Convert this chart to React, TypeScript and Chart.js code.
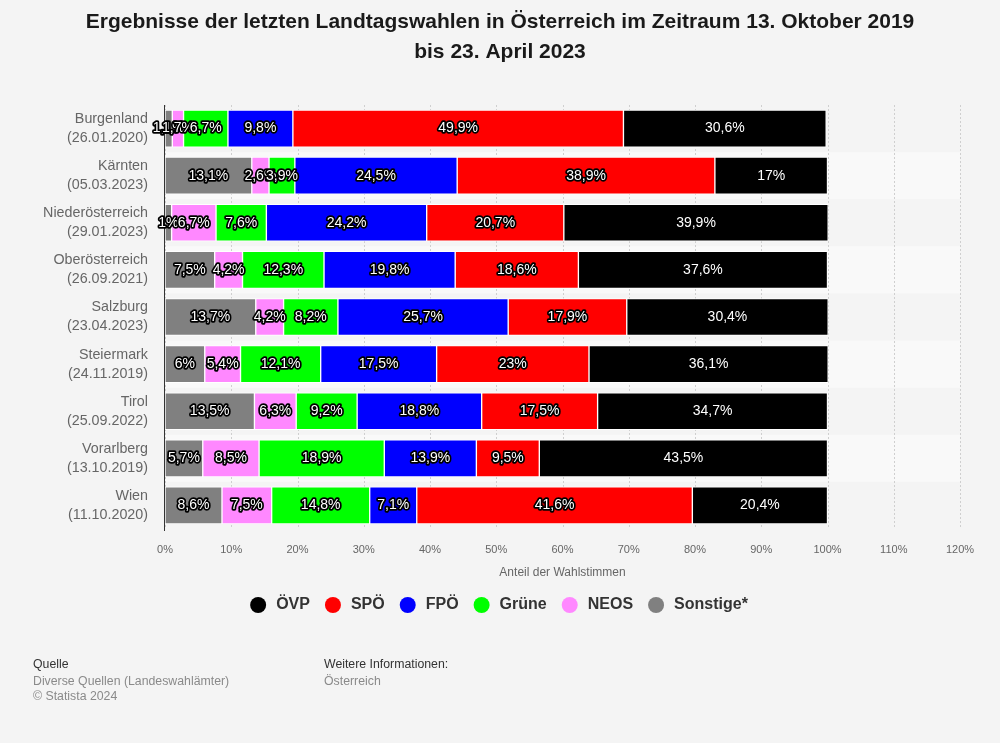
import React, { useEffect, useRef } from "react";
import { Chart, registerables } from "chart.js";

Chart.register(...registerables);

const categories: string[][] = [
  ["Burgenland", "(26.01.2020)"],
  ["Kärnten", "(05.03.2023)"],
  ["Niederösterreich", "(29.01.2023)"],
  ["Oberösterreich", "(26.09.2021)"],
  ["Salzburg", "(23.04.2023)"],
  ["Steiermark", "(24.11.2019)"],
  ["Tirol", "(25.09.2022)"],
  ["Vorarlberg", "(13.10.2019)"],
  ["Wien", "(11.10.2020)"],
];

const sonstige = [1.1, 13.1, 1, 7.5, 13.7, 6, 13.5, 5.7, 8.6];
const neos = [1.7, 2.6, 6.7, 4.2, 4.2, 5.4, 6.3, 8.5, 7.5];
const gruene = [6.7, 3.9, 7.6, 12.3, 8.2, 12.1, 9.2, 18.9, 14.8];
const fpoe = [9.8, 24.5, 24.2, 19.8, 25.7, 17.5, 18.8, 13.9, 7.1];
const spoe = [49.9, 38.9, 20.7, 18.6, 17.9, 23, 17.5, 9.5, 41.6];
const oevp = [30.6, 17, 39.9, 37.6, 30.4, 36.1, 34.7, 43.5, 20.4];

const seriesNames = ["Sonstige*", "NEOS", "Grüne", "FPÖ", "SPÖ", "ÖVP"];
const seriesColors = ["#808080", "#ff88ff", "#00ff00", "#0000ff", "#ff0000", "#000000"];
const legendOrder = ["ÖVP", "SPÖ", "FPÖ", "Grüne", "NEOS", "Sonstige*"];

const titleLines = [
  "Ergebnisse der letzten Landtagswahlen in Österreich im Zeitraum 13. Oktober 2019",
  "bis 23. April 2023",
];
const axisTitle = "Anteil der Wahlstimmen";
const xMin = 0;
const xMax = 120;
const xStep = 10;

const FONT = '"Liberation Sans", Arial, sans-serif';

const fmt = (v: number) => String(v).replace(".", ",") + "%";

const decorPlugin = {
  id: "decor",
  beforeDatasetsDraw(chart: any) {
    const { ctx, chartArea, scales } = chart;
    const x = scales.x;
    const y = scales.y;
    ctx.save();
    const n = categories.length;
    const slot = (chartArea.bottom - chartArea.top) / n;
    for (let i = 0; i < n; i++) {
      if (i % 2 === 1) {
        const cy = y.getPixelForValue(i);
        ctx.fillStyle = "#f9f9f9";
        ctx.fillRect(chartArea.left, cy - slot / 2, chartArea.right - chartArea.left, slot);
      }
    }
    ctx.strokeStyle = "#cfcfcf";
    ctx.lineWidth = 1;
    ctx.setLineDash([2, 2]);
    for (let v = xMin; v <= xMax; v += xStep) {
      const px = Math.round(x.getPixelForValue(v)) + 0.5;
      ctx.beginPath();
      ctx.moveTo(px, chartArea.top);
      ctx.lineTo(px, chartArea.bottom);
      ctx.stroke();
    }
    ctx.setLineDash([]);
    ctx.restore();
  },
  afterDatasetsDraw(chart: any) {
    const { ctx, chartArea } = chart;
    ctx.save();
    ctx.strokeStyle = "#333333";
    ctx.lineWidth = 1;
    ctx.beginPath();
    const lx = Math.round(chartArea.left) - 0.5;
    ctx.moveTo(lx, chartArea.top);
    ctx.lineTo(lx, chartArea.bottom + 2);
    ctx.stroke();

    ctx.font = `14px ${FONT}`;
    ctx.textAlign = "center";
    ctx.textBaseline = "middle";
    ctx.lineJoin = "round";
    chart.data.datasets.forEach((ds: any, di: number) => {
      const meta = chart.getDatasetMeta(di);
      meta.data.forEach((el: any, i: number) => {
        const v = ds.data[i];
        const cx = (el.x + el.base) / 2;
        const cy = el.y;
        const t = fmt(v);
        ctx.lineWidth = 3.5;
        ctx.strokeStyle = "#000";
        ctx.strokeText(t, cx, cy);
        ctx.fillStyle = "#fff";
        ctx.fillText(t, cx, cy);
      });
    });
    ctx.restore();
  },
  afterDraw(chart: any) {
    const { ctx, chartArea } = chart;
    ctx.save();
    ctx.fillStyle = "#1a1a1a";
    ctx.font = `bold 21px ${FONT}`;
    ctx.textAlign = "center";
    ctx.textBaseline = "middle";
    ctx.fillText(titleLines[0], 500, 22);
    ctx.fillText(titleLines[1], 500, 52);

    ctx.font = `12px ${FONT}`;
    ctx.fillStyle = "#666666";
    ctx.fillText(axisTitle, (chartArea.left + chartArea.right) / 2, 573);

    ctx.font = `bold 16px ${FONT}`;
    const r = 8;
    const gapText = 10;
    const gapItem = 15;
    const widths = legendOrder.map((s) => ctx.measureText(s).width);
    let total = 0;
    widths.forEach((w, i) => {
      total += 2 * r + gapText + w + (i < widths.length - 1 ? gapItem : 0);
    });
    let lxp = 499 - total / 2;
    const ly = 605;
    ctx.textAlign = "left";
    legendOrder.forEach((name, i) => {
      const ci = seriesNames.indexOf(name);
      ctx.fillStyle = seriesColors[ci];
      ctx.beginPath();
      ctx.arc(lxp + r, ly, r, 0, Math.PI * 2);
      ctx.fill();
      ctx.fillStyle = "#333333";
      ctx.fillText(name, lxp + 2 * r + gapText, ly);
      lxp += 2 * r + gapText + widths[i] + gapItem;
    });

    ctx.font = `12.3px ${FONT}`;
    ctx.fillStyle = "#333333";
    ctx.fillText("Quelle", 33, 665);
    ctx.fillText("Weitere Informationen:", 324, 665);
    ctx.fillStyle = "#8a8a8a";
    ctx.fillText("Diverse Quellen (Landeswahlämter)", 33, 682);
    ctx.fillText("© Statista 2024", 33, 697);
    ctx.fillText("Österreich", 324, 682);
    ctx.restore();
  },
};

export default function App() {
  const ref = useRef<HTMLCanvasElement | null>(null);
  useEffect(() => {
    if (!ref.current) return;
    const seriesData = [sonstige, neos, gruene, fpoe, spoe, oevp];
    const chart = new Chart(ref.current, {
      type: "bar",
      data: {
        labels: categories,
        datasets: seriesNames.map((name, i) => ({
          label: name,
          data: seriesData[i],
          backgroundColor: seriesColors[i],
          borderColor: "#ffffff",
          borderWidth: 1,
          borderSkipped: false,
          barThickness: 37,
        })),
      },
      options: {
        indexAxis: "y",
        responsive: false,
        animation: false,
        devicePixelRatio: 1,
        layout: { padding: { top: 105, right: 40, left: 0, bottom: 0 } },
        plugins: {
          legend: { display: false },
          tooltip: { enabled: false },
          title: { display: false },
        },
        scales: {
          x: {
            stacked: true,
            min: xMin,
            max: xMax,
            grid: { display: false, drawTicks: false },
            border: { display: false },
            ticks: {
              stepSize: xStep,
              padding: 14,
              color: "#666666",
              font: { family: FONT, size: 11 },
              callback: (v: any) => v + "%",
              maxRotation: 0,
              autoSkip: false,
            },
            afterFit: (s: any) => {
              s.height = 214;
            },
          },
          y: {
            stacked: true,
            grid: { display: false, drawTicks: false },
            border: { display: false },
            ticks: {
              padding: 17,
              color: "#666666",
              font: { family: FONT, size: 14.3, lineHeight: 1.33 },
              autoSkip: false,
            },
            afterFit: (s: any) => {
              s.width = 165;
            },
          },
        },
      } as any,
      plugins: [decorPlugin],
    });
    return () => chart.destroy();
  }, []);
  return (
    <div
      style={{
        position: "absolute",
        left: 0,
        top: 0,
        width: 1000,
        height: 743,
        background: "#f4f4f4",
      }}
    >
      <canvas ref={ref} width={1000} height={743} style={{ width: 1000, height: 743, display: "block" }} />
    </div>
  );
}
